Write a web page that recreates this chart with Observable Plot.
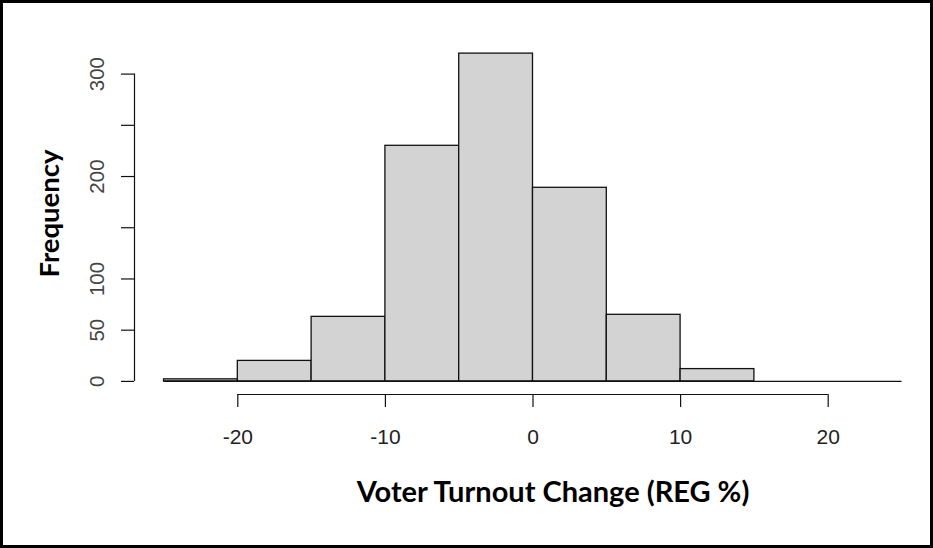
<!DOCTYPE html>
<html>
<head>
<meta charset="utf-8">
<script src="https://cdn.jsdelivr.net/npm/d3@7"></script>
<script src="https://cdn.jsdelivr.net/npm/@observablehq/plot@0.6"></script>
<style>
  body { margin: 0; background: #fff; }
  #wrap { position: relative; width: 933px; height: 548px; overflow: hidden; }
  #frame { position: absolute; left: 0; top: 0; width: 933px; height: 548px;
           border: 3px solid #000; box-sizing: border-box; pointer-events: none; }
  #wrap svg { position: absolute; left: 0; top: 0; }
</style>
</head>
<body>
<div id="wrap"><div id="frame"></div></div>
<script>
// Histogram bins (left edges, width 5) and their frequencies
const binStart = [-25, -20, -15, -10, -5, 0, 5, 10, 15, 20];
const binWidth = 5;
const counts = [2, 20, 63, 230, 320, 189, 65, 12, 0, 0];

// Axis ticks and labels (R skips labels that would collide)
const xTicks = [-20, -10, 0, 10, 20];
const xTickLabels = ["-20", "-10", "0", "10", "20"];
const yTicks = [0, 50, 100, 150, 200, 250, 300];
const yTickLabels = ["0", "50", "100", "", "200", "", "300"];

const xTitle = "Voter Turnout Change (REG %)";
const yTitle = "Frequency";

const bins = binStart.map((s, i) => ({x1: s, x2: s + binWidth, count: counts[i]}));

// R-style 4% padding around the data range
const xMin = binStart[0], xMax = binStart[binStart.length - 1] + binWidth;
const xPad = (xMax - xMin) * 0.04;
const yMax = d3.max(counts);
const yPad = yMax * 0.04;
const xLo = xMin - xPad, xHi = xMax + xPad;
const yLo = -yPad, yHi = yMax + yPad;

const tickFont = "Liberation Sans, Arial, sans-serif";
const titleFont = "Lato, 'Open Sans', sans-serif";

const chart = Plot.plot({
  width: 933,
  height: 548,
  marginLeft: 134,
  marginRight: 2,
  marginTop: 40,
  marginBottom: 154,
  x: {domain: [xLo, xHi]},
  y: {domain: [yLo, yHi]},
  style: {background: "transparent", overflow: "visible"},
  marks: [
    // bars
    Plot.rectY(bins, {x1: "x1", x2: "x2", y1: 0, y2: "count",
      fill: "#d3d3d3", stroke: "#111", strokeWidth: 1.3}),
    // baseline under the empty bins
    Plot.ruleY([0], {x1: xMin, x2: xMax, stroke: "#111", strokeWidth: 1.3}),

    // y axis: line across the tick range, ticks, rotated labels
    Plot.ruleX([xLo], {y1: yTicks[0], y2: yTicks[yTicks.length - 1], stroke: "#111", strokeWidth: 1.2}),
    Plot.axisY({ticks: yTicks, tickSize: 13, tickFormat: () => "", label: null, stroke: "#111", strokeWidth: 1.2}),
    Plot.text(yTicks.map((t, i) => ({t, s: yTickLabels[i]})), {
      x: xLo, y: "t", text: "s", rotate: -90, dx: -37, textAnchor: "middle",
      fontSize: 20.5, fontFamily: tickFont, fill: "#444"}),

    // x axis: line across the tick range, ticks, labels
    Plot.ruleY([yLo], {x1: xTicks[0], x2: xTicks[xTicks.length - 1], stroke: "#111", strokeWidth: 1.2}),
    Plot.axisX({ticks: xTicks, tickSize: 13, tickFormat: () => "", label: null, stroke: "#111", strokeWidth: 1.2}),
    Plot.text(xTicks.map((t, i) => ({t, s: xTickLabels[i]})), {
      x: "t", y: yLo, text: "s", dy: 43, textAnchor: "middle",
      fontSize: 21, fontFamily: tickFont, fill: "#222"}),

    // axis titles
    Plot.text([xTitle], {frameAnchor: "bottom", dx: 20, dy: 107, text: d => d,
      fontSize: 29, fontWeight: 700, fontFamily: titleFont, fill: "#000"}),
    Plot.text([yTitle], {frameAnchor: "left", dx: -84, dy: -4, rotate: -90, textAnchor: "middle",
      text: d => d, fontSize: 27.5, fontWeight: 700, fontFamily: titleFont, fill: "#000"})
  ]
});

document.getElementById("wrap").prepend(chart);
</script>
</body>
</html>
